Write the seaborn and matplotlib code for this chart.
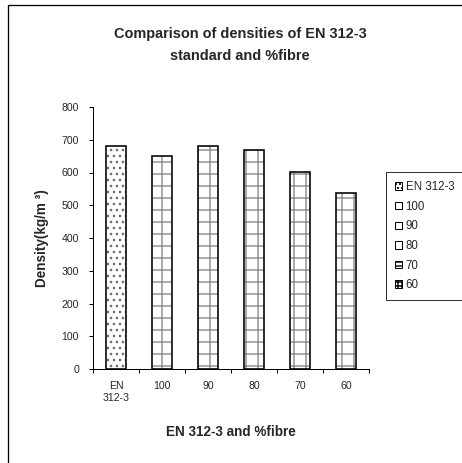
import matplotlib
matplotlib.use("Agg")
import matplotlib.pyplot as plt
import seaborn as sns
from matplotlib.patches import Patch, Rectangle
from matplotlib.ticker import FixedLocator

categories = ["EN\n312-3", "100", "90", "80", "70", "60"]
legend_labels = ["EN 312-3", "100", "90", "80", "70", "60"]
densities = [680, 650, 680, 668, 603, 537]
hatches = ["..", "+", "+", "+", "+", "+"]
legend_hatches = ["...", "", "", "", "---", "+++"]

sns.set_theme(style="white")
plt.rcParams["font.family"] = ["Liberation Sans", "DejaVu Sans"]
plt.rcParams["hatch.linewidth"] = 1.4

W, H = 462, 463
fig = plt.figure(figsize=(W / 72, H / 72), dpi=72)
ax = fig.add_axes([93 / W, 1 - 369 / H, (369 - 93) / W, (369 - 107) / H])

# hatched fill first, then black outline on top
sns.barplot(x=categories, y=densities, color="white", width=0.43, ax=ax,
            edgecolor="#8a8a8a", linewidth=0)
for bar, h in zip(ax.patches, hatches):
    bar.set_hatch(h)
    bar.set_edgecolor("#707070" if h == ".." else "#8a8a8a")
    bar.set_linewidth(0)
sns.barplot(x=categories, y=densities, fill=False, color="black", width=0.43,
            linewidth=1.6, ax=ax)

ax.set_ylim(0, 800)
ax.set_xlim(-0.5, 5.5)
ax.set_yticks(range(0, 801, 100))
ax.tick_params(axis="y", which="major", length=4, width=1, color="black",
               labelsize=10.5, pad=10, left=True)
ax.tick_params(axis="x", which="major", length=0, labelsize=10.5, pad=12)
ax.xaxis.set_minor_locator(FixedLocator([i - 0.5 for i in range(7)]))
ax.tick_params(axis="x", which="minor", length=4, width=1, color="black",
               bottom=True)
for side in ["top", "right"]:
    ax.spines[side].set_visible(False)
for side in ["left", "bottom"]:
    ax.spines[side].set_color("black")
    ax.spines[side].set_linewidth(1)

ax.set_xlabel("EN 312-3 and %fibre", fontsize=13.5, fontweight="bold",
              labelpad=22)
ax.set_ylabel("Density(kg/m ³)", fontsize=13.5, fontweight="bold", labelpad=13)

fig.text(240 / W, 1 - 45 / H, "Comparison of densities of EN 312-3\nstandard and %fibre",
         ha="center", va="center", fontsize=14.5, fontweight="bold",
         linespacing=1.7)

handles = [Patch(facecolor="white", edgecolor="black", hatch=h, linewidth=1)
           for h in legend_hatches]
leg = fig.legend(handles, legend_labels, loc="upper left",
                 bbox_to_anchor=(386 / W, 1 - 172 / H), fontsize=11.5,
                 frameon=True, fancybox=False, handlelength=0.6,
                 handleheight=0.6, handletextpad=0.3, labelspacing=0.66,
                 borderpad=0.8, borderaxespad=0)
leg.get_frame().set_edgecolor("black")
leg.get_frame().set_linewidth(1)

# outer chart frame (cut by the image edge on the right and bottom)
fig.patches.append(Rectangle((8 / W, -0.1), 1.2, 1 - 5 / H + 0.1, fill=False,
                             edgecolor="black", linewidth=1.3,
                             transform=fig.transFigure, figure=fig))

fig.savefig("out.png", dpi=72)
